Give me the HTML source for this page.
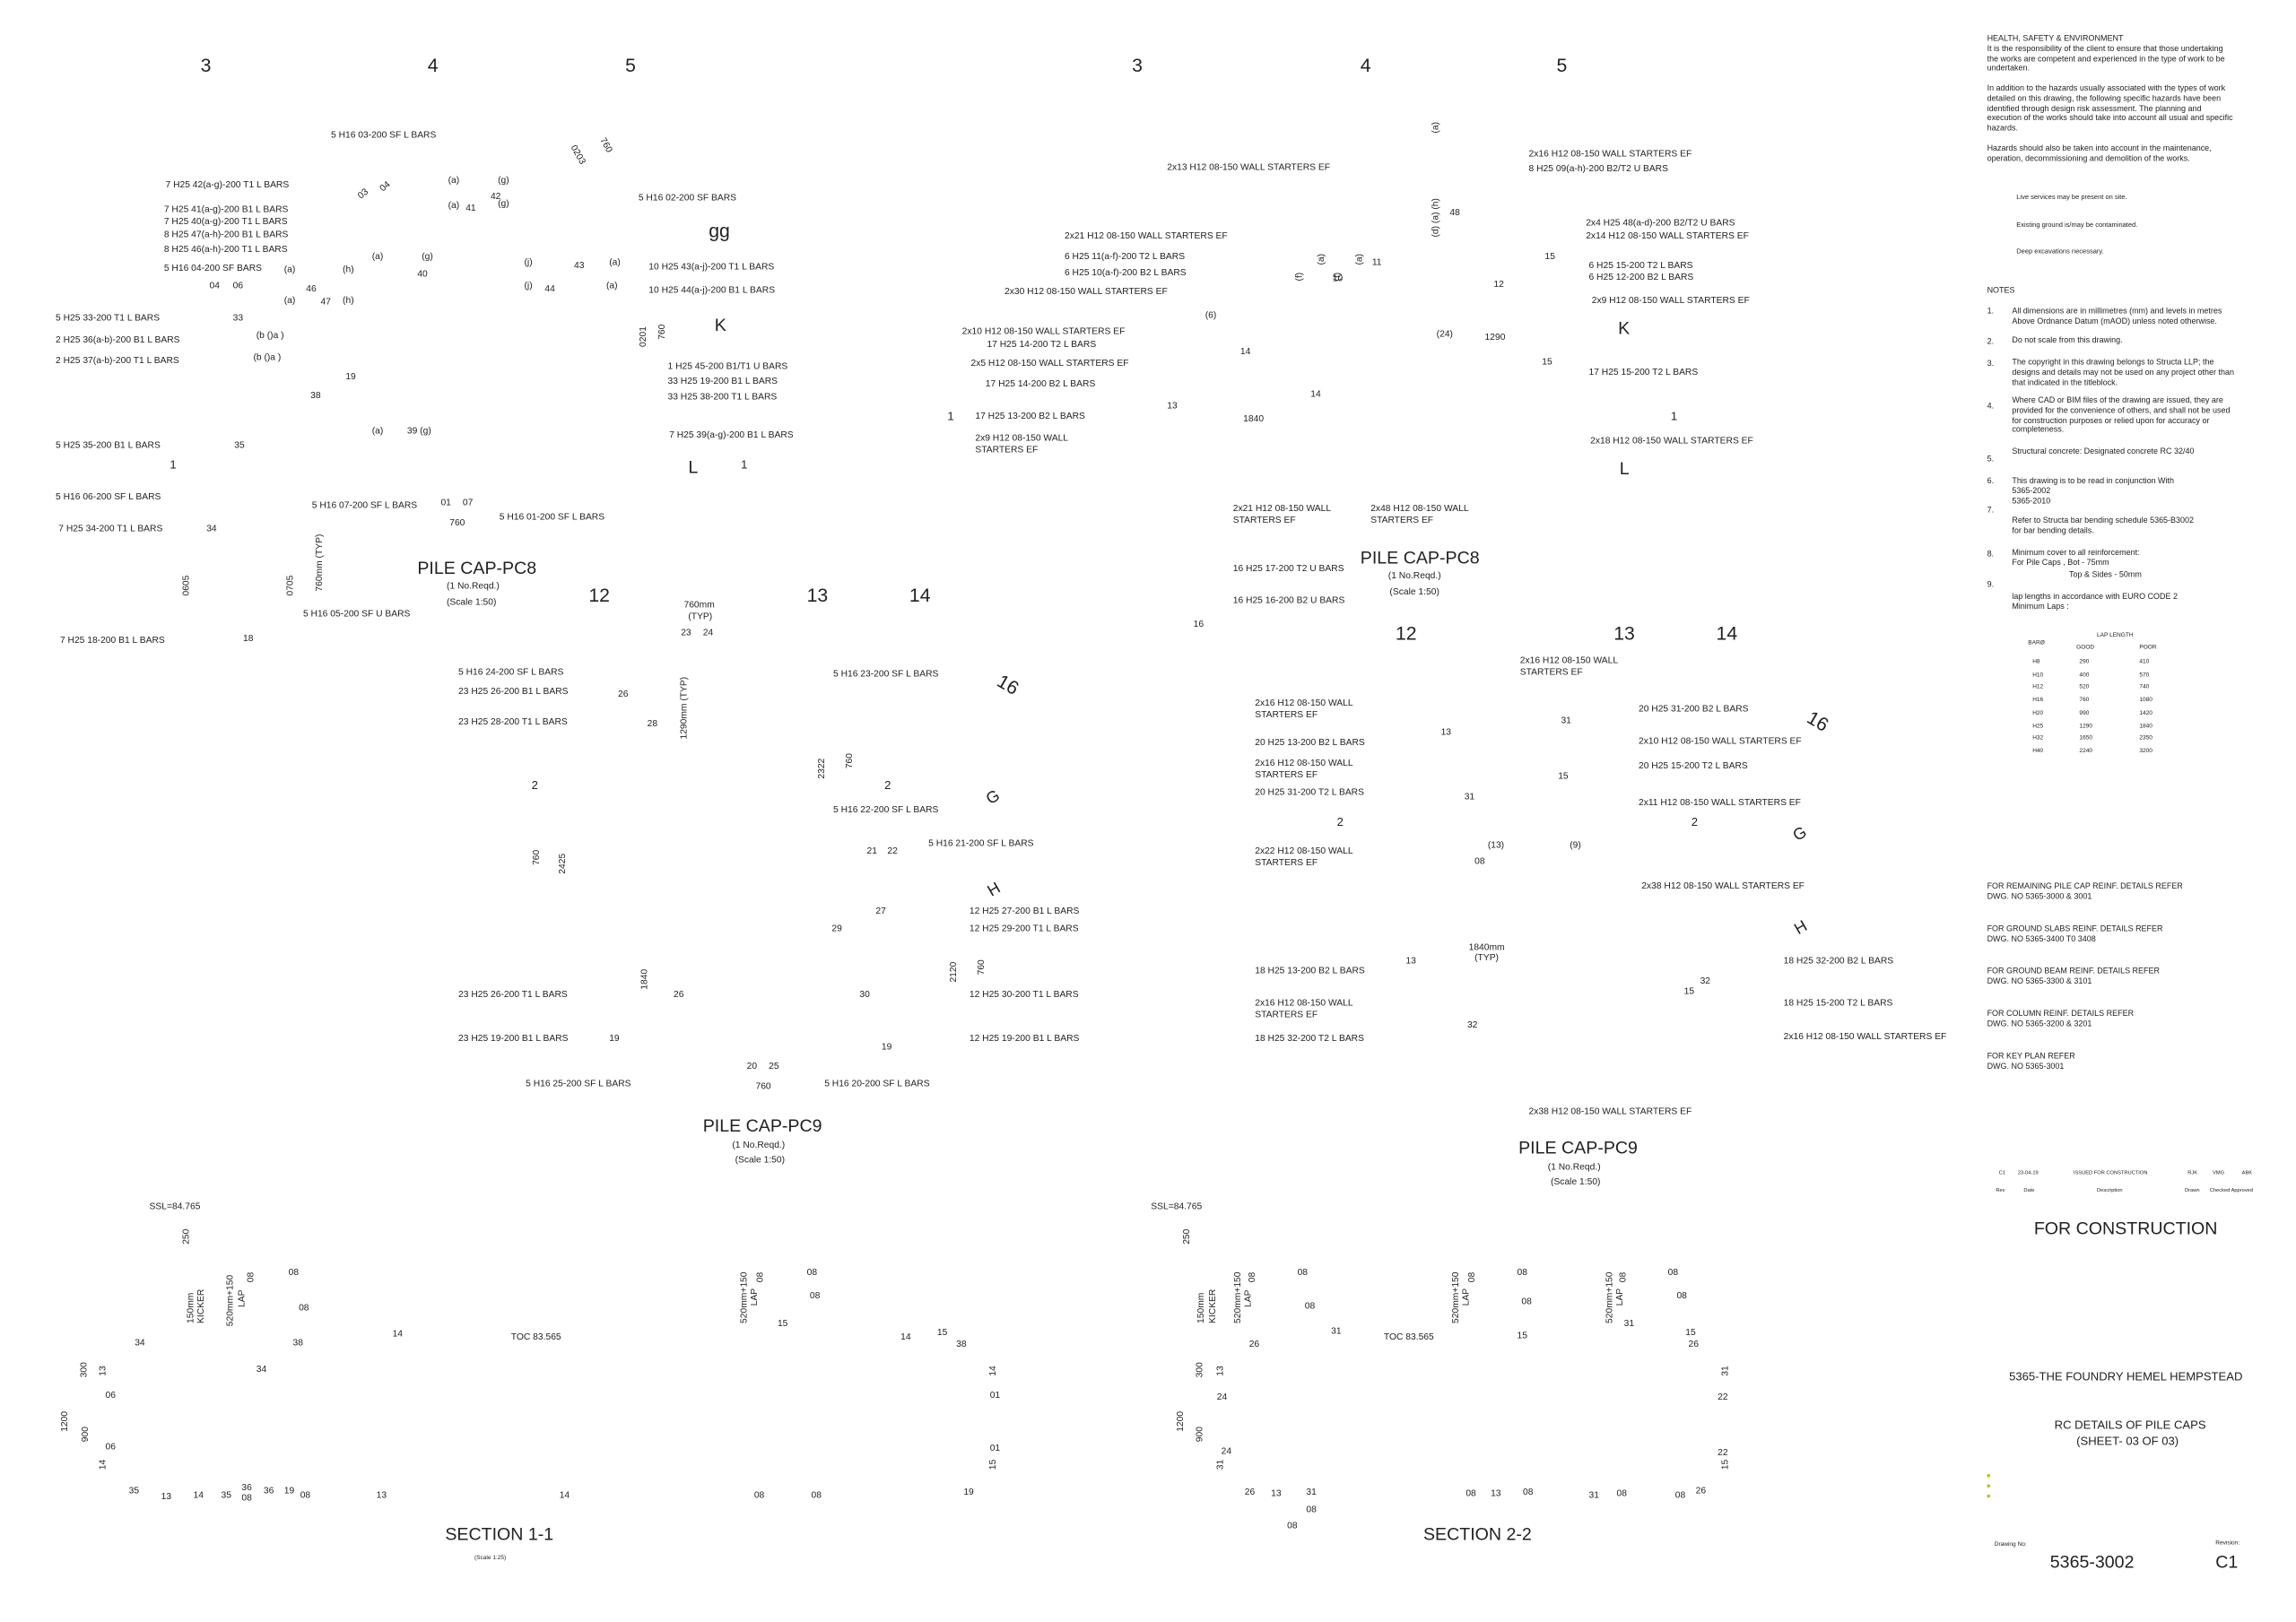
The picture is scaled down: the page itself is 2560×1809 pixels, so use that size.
<!DOCTYPE html>
<html><head><meta charset="utf-8"><style>
html,body{margin:0;padding:0;background:#fff;}
body{width:2560px;height:1808px;overflow:hidden;position:relative;}
#w{position:absolute;left:0;top:0;width:1568px;height:1108px;transform:scale(1.6327);transform-origin:0 0;font-family:"Liberation Sans Narrow","Liberation Sans",sans-serif;color:#222;}
#w div{position:absolute;white-space:nowrap;}
.s{font-size:6.3px;line-height:8px;}
.b{font-size:13px;line-height:14px;}
.m{font-size:12px;line-height:14px;}
.r{transform:rotate(-90deg);transform-origin:0 0;}
.n{font-size:5.5px;line-height:6.8px;}
.t{font-size:4px;line-height:5px;}
</style></head><body><div id="w">
<!-- LEFT PLAN -->
<div class="b" style="left:137px;top:38px">3</div>
<div class="b" style="left:292px;top:38px">4</div>
<div class="b" style="left:427px;top:38px">5</div>
<div class="s" style="left:226px;top:89px">5 H16 03-200 SF L BARS</div>
<div class="s" style="left:394px;top:98px;transform:rotate(60deg);transform-origin:0 0">0203</div>
<div class="s" style="left:414px;top:93px;transform:rotate(60deg);transform-origin:0 0">760</div>
<div class="s" style="left:113px;top:123px">7 H25 42(a-g)-200 T1 L BARS</div>
<div class="s" style="left:245px;top:129px;transform:rotate(-40deg)">03</div>
<div class="s" style="left:260px;top:124px;transform:rotate(-40deg)">04</div>
<div class="s" style="left:306px;top:120px">(a)</div><div class="s" style="left:340px;top:120px">(g)</div>
<div class="s" style="left:335px;top:131px">42</div>
<div class="s" style="left:306px;top:137px">(a)</div><div class="s" style="left:318px;top:139px">41</div><div class="s" style="left:340px;top:136px">(g)</div>
<div class="s" style="left:436px;top:132px">5 H16 02-200 SF BARS</div>
<div class="s" style="left:112px;top:140px">7 H25 41(a-g)-200 B1 L BARS</div>
<div class="s" style="left:112px;top:148px">7 H25 40(a-g)-200 T1 L BARS</div>
<div class="b" style="left:484px;top:151px">gg</div>
<div class="s" style="left:112px;top:157px">8 H25 47(a-h)-200 B1 L BARS</div>
<div class="s" style="left:112px;top:167px">8 H25 46(a-h)-200 T1 L BARS</div>
<div class="s" style="left:254px;top:172px">(a)</div><div class="s" style="left:288px;top:172px">(g)</div>
<div class="s" style="left:358px;top:176px">(j)</div><div class="s" style="left:392px;top:178px">43</div><div class="s" style="left:416px;top:176px">(a)</div>
<div class="s" style="left:443px;top:179px">10 H25 43(a-j)-200 T1 L BARS</div>
<div class="s" style="left:112px;top:180px">5 H16 04-200 SF BARS</div>
<div class="s" style="left:194px;top:181px">(a)</div><div class="s" style="left:234px;top:181px">(h)</div><div class="s" style="left:285px;top:184px">40</div>
<div class="s" style="left:143px;top:192px">04</div><div class="s" style="left:159px;top:192px">06</div><div class="s" style="left:209px;top:194px">46</div>
<div class="s" style="left:358px;top:192px">(j)</div><div class="s" style="left:372px;top:194px">44</div><div class="s" style="left:414px;top:192px">(a)</div>
<div class="s" style="left:443px;top:195px">10 H25 44(a-j)-200 B1 L BARS</div>
<div class="s" style="left:194px;top:202px">(a)</div><div class="s" style="left:219px;top:203px">47</div><div class="s" style="left:234px;top:202px">(h)</div>
<div class="s" style="left:38px;top:214px">5 H25 33-200 T1 L BARS</div><div class="s" style="left:159px;top:214px">33</div>
<div class="b" style="left:488px;top:215px;font-size:12px">K</div>
<div class="s r" style="left:436px;top:237px">0201</div>
<div class="s r" style="left:449px;top:232px">760</div>
<div class="s" style="left:38px;top:229px">2 H25 36(a-b)-200 B1 L BARS</div><div class="s" style="left:175px;top:226px">(b ()a )</div>
<div class="s" style="left:38px;top:243px">2 H25 37(a-b)-200 T1 L BARS</div><div class="s" style="left:173px;top:241px">(b ()a )</div>
<div class="s" style="left:456px;top:247px">1 H25 45-200 B1/T1 U BARS</div>
<div class="s" style="left:236px;top:254px">19</div>
<div class="s" style="left:456px;top:257px">33 H25 19-200 B1 L BARS</div>
<div class="s" style="left:456px;top:268px">33 H25 38-200 T1 L BARS</div>
<div class="s" style="left:212px;top:267px">38</div>
<div class="s" style="left:254px;top:291px">(a)</div><div class="s" style="left:278px;top:291px">39 (g)</div>
<div class="s" style="left:457px;top:294px">7 H25 39(a-g)-200 B1 L BARS</div>
<div class="s" style="left:38px;top:301px">5 H25 35-200 B1 L BARS</div><div class="s" style="left:160px;top:301px">35</div>
<div class="s" style="left:116px;top:314px;font-size:8px">1</div>
<div class="b" style="left:470px;top:312px;font-size:12px">L</div>
<div class="s" style="left:506px;top:314px;font-size:8px">1</div>
<div class="s" style="left:38px;top:336px">5 H16 06-200 SF L BARS</div>
<div class="s" style="left:213px;top:342px">5 H16 07-200 SF L BARS</div>
<div class="s" style="left:301px;top:340px">01</div><div class="s" style="left:316px;top:340px">07</div>
<div class="s" style="left:341px;top:350px">5 H16 01-200 SF L BARS</div>
<div class="s" style="left:307px;top:354px">760</div>
<div class="s" style="left:40px;top:358px">7 H25 34-200 T1 L BARS</div><div class="s" style="left:141px;top:358px">34</div>
<div class="m" style="left:285px;top:381px">PILE CAP-PC8</div>
<div class="s r" style="left:124px;top:407px">0605</div>
<div class="s r" style="left:195px;top:407px">0705</div>
<div class="s r" style="left:215px;top:404px">760mm (TYP)</div>
<div class="s" style="left:305px;top:397px">(1 No.Reqd.)</div>
<div class="s" style="left:305px;top:408px">(Scale 1:50)</div>
<div class="b" style="left:402px;top:400px">12</div>
<div class="b" style="left:551px;top:400px">13</div>
<div class="b" style="left:621px;top:400px">14</div>
<div class="s" style="left:467px;top:410px">760mm</div><div class="s" style="left:470px;top:418px">(TYP)</div>
<div class="s" style="left:207px;top:416px">5 H16 05-200 SF U BARS</div>
<div class="s" style="left:465px;top:429px">23</div><div class="s" style="left:480px;top:429px">24</div>
<div class="s" style="left:41px;top:434px">7 H25 18-200 B1 L BARS</div><div class="s" style="left:166px;top:433px">18</div>
<div class="s" style="left:313px;top:456px">5 H16 24-200 SF L BARS</div>
<div class="s" style="left:569px;top:457px">5 H16 23-200 SF L BARS</div>
<div class="b" style="left:681px;top:461px;transform:rotate(30deg)">16</div>
<div class="s" style="left:313px;top:469px">23 H25 26-200 B1 L BARS</div><div class="s" style="left:422px;top:471px">26</div>
<div class="s" style="left:313px;top:490px">23 H25 28-200 T1 L BARS</div><div class="s" style="left:442px;top:491px">28</div>
<div class="s r" style="left:464px;top:505px">1290mm (TYP)</div>
<div class="s r" style="left:558px;top:532px">2322</div>
<div class="s r" style="left:577px;top:525px">760</div>
<div class="s" style="left:363px;top:533px;font-size:8px">2</div>
<div class="s" style="left:604px;top:533px;font-size:8px">2</div>
<div class="b" style="left:674px;top:538px;font-size:11px;transform:rotate(-30deg)">G</div>
<div class="s" style="left:569px;top:550px">5 H16 22-200 SF L BARS</div>
<div class="s" style="left:592px;top:578px">21</div><div class="s" style="left:606px;top:578px">22</div>
<div class="s" style="left:634px;top:573px">5 H16 21-200 SF L BARS</div>
<div class="s r" style="left:363px;top:591px">760</div>
<div class="s r" style="left:381px;top:597px">2425</div>
<div class="b" style="left:675px;top:601px;font-size:11px;transform:rotate(-30deg)">H</div>
<div class="s" style="left:598px;top:619px">27</div><div class="s" style="left:662px;top:619px">12 H25 27-200 B1 L BARS</div>
<div class="s" style="left:568px;top:631px">29</div><div class="s" style="left:662px;top:631px">12 H25 29-200 T1 L BARS</div>
<div class="s r" style="left:648px;top:671px">2120</div>
<div class="s r" style="left:667px;top:666px">760</div>
<div class="s r" style="left:437px;top:676px">1840</div>
<div class="s" style="left:313px;top:676px">23 H25 26-200 T1 L BARS</div><div class="s" style="left:460px;top:676px">26</div><div class="s" style="left:587px;top:676px">30</div><div class="s" style="left:662px;top:676px">12 H25 30-200 T1 L BARS</div>
<div class="s" style="left:313px;top:706px">23 H25 19-200 B1 L BARS</div><div class="s" style="left:416px;top:706px">19</div><div class="s" style="left:602px;top:712px">19</div><div class="s" style="left:662px;top:706px">12 H25 19-200 B1 L BARS</div>
<div class="s" style="left:510px;top:725px">20</div><div class="s" style="left:525px;top:725px">25</div>
<div class="s" style="left:359px;top:737px">5 H16 25-200 SF L BARS</div><div class="s" style="left:516px;top:739px">760</div><div class="s" style="left:563px;top:737px">5 H16 20-200 SF L BARS</div>
<div class="m" style="left:480px;top:762px">PILE CAP-PC9</div>
<div class="s" style="left:500px;top:779px">(1 No.Reqd.)</div>
<div class="s" style="left:502px;top:789px">(Scale 1:50)</div>

<!-- RIGHT PLAN -->
<div class="b" style="left:773px;top:38px">3</div>
<div class="b" style="left:929px;top:38px">4</div>
<div class="b" style="left:1063px;top:38px">5</div>
<div class="s r" style="left:977px;top:91px">(a)</div>
<div class="s" style="left:1044px;top:102px">2x16 H12 08-150 WALL STARTERS EF</div>
<div class="s" style="left:797px;top:111px">2x13 H12 08-150 WALL STARTERS EF</div>
<div class="s" style="left:1044px;top:112px">8 H25 09(a-h)-200 B2/T2 U BARS</div>
<div class="s r" style="left:977px;top:162px">(d) (a) (h)</div><div class="s" style="left:990px;top:142px">48</div>
<div class="s" style="left:1083px;top:149px">2x4 H25 48(a-d)-200 B2/T2 U BARS</div>
<div class="s" style="left:727px;top:158px">2x21 H12 08-150 WALL STARTERS EF</div>
<div class="s" style="left:1083px;top:158px">2x14 H12 08-150 WALL STARTERS EF</div>
<div class="s" style="left:727px;top:172px">6 H25 11(a-f)-200 T2 L BARS</div>
<div class="s r" style="left:899px;top:181px">(a)</div><div class="s r" style="left:925px;top:181px">(a)</div>
<div class="s" style="left:937px;top:176px">11</div><div class="s" style="left:1055px;top:172px">15</div>
<div class="s" style="left:1085px;top:178px">6 H25 15-200 T2 L BARS</div>
<div class="s" style="left:727px;top:183px">6 H25 10(a-f)-200 B2 L BARS</div>
<div class="s r" style="left:884px;top:192px">(f)</div><div class="s r" style="left:910px;top:192px">(f)</div><div class="s" style="left:910px;top:187px">10</div>
<div class="s" style="left:1085px;top:186px">6 H25 12-200 B2 L BARS</div><div class="s" style="left:1020px;top:191px">12</div>
<div class="s" style="left:686px;top:196px">2x30 H12 08-150 WALL STARTERS EF</div>
<div class="s" style="left:1087px;top:202px">2x9 H12 08-150 WALL STARTERS EF</div>
<div class="s" style="left:823px;top:212px">(6)</div>
<div class="s" style="left:657px;top:223px">2x10 H12 08-150 WALL STARTERS EF</div>
<div class="b" style="left:1105px;top:217px;font-size:12px">K</div>
<div class="s" style="left:981px;top:225px">(24)</div><div class="s" style="left:1014px;top:227px">1290</div>
<div class="s" style="left:674px;top:232px">17 H25 14-200 T2 L BARS</div>
<div class="s" style="left:847px;top:237px">14</div>
<div class="s" style="left:663px;top:245px">2x5 H12 08-150 WALL STARTERS EF</div><div class="s" style="left:1053px;top:244px">15</div>
<div class="s" style="left:1085px;top:251px">17 H25 15-200 T2 L BARS</div>
<div class="s" style="left:673px;top:259px">17 H25 14-200 B2 L BARS</div>
<div class="s" style="left:895px;top:266px">14</div><div class="s" style="left:797px;top:274px">13</div>
<div class="s" style="left:647px;top:281px;font-size:8px">1</div>
<div class="s" style="left:666px;top:281px">17 H25 13-200 B2 L BARS</div>
<div class="s" style="left:849px;top:283px">1840</div>
<div class="s" style="left:1141px;top:281px;font-size:8px">1</div>
<div class="s" style="left:666px;top:296px">2x9 H12 08-150 WALL</div><div class="s" style="left:666px;top:304px">STARTERS EF</div>
<div class="s" style="left:1086px;top:298px">2x18 H12 08-150 WALL STARTERS EF</div>
<div class="b" style="left:1106px;top:313px;font-size:12px">L</div>
<div class="s" style="left:842px;top:344px">2x21 H12 08-150 WALL</div><div class="s" style="left:842px;top:352px">STARTERS EF</div>
<div class="s" style="left:936px;top:344px">2x48 H12 08-150 WALL</div><div class="s" style="left:936px;top:352px">STARTERS EF</div>
<div class="m" style="left:929px;top:374px">PILE CAP-PC8</div>
<div class="s" style="left:948px;top:390px">(1 No.Reqd.)</div><div class="s" style="left:949px;top:401px">(Scale 1:50)</div>
<div class="s" style="left:842px;top:385px">16 H25 17-200 T2 U BARS</div>
<div class="s" style="left:842px;top:407px">16 H25 16-200 B2 U BARS</div>
<div class="s" style="left:815px;top:423px">16</div>
<div class="b" style="left:953px;top:426px">12</div>
<div class="b" style="left:1102px;top:426px">13</div>
<div class="b" style="left:1172px;top:426px">14</div>
<div class="s" style="left:1038px;top:448px">2x16 H12 08-150 WALL</div><div class="s" style="left:1038px;top:456px">STARTERS EF</div>
<div class="b" style="left:1234px;top:486px;transform:rotate(30deg)">16</div>
<div class="s" style="left:857px;top:477px">2x16 H12 08-150 WALL</div><div class="s" style="left:857px;top:485px">STARTERS EF</div>
<div class="s" style="left:1119px;top:481px">20 H25 31-200 B2 L BARS</div>
<div class="s" style="left:1066px;top:489px">31</div><div class="s" style="left:984px;top:497px">13</div>
<div class="s" style="left:857px;top:504px">20 H25 13-200 B2 L BARS</div>
<div class="s" style="left:1119px;top:503px">2x10 H12 08-150 WALL STARTERS EF</div>
<div class="s" style="left:857px;top:518px">2x16 H12 08-150 WALL</div><div class="s" style="left:857px;top:526px">STARTERS EF</div>
<div class="s" style="left:1119px;top:520px">20 H25 15-200 T2 L BARS</div><div class="s" style="left:1064px;top:527px">15</div>
<div class="s" style="left:857px;top:538px">20 H25 31-200 T2 L BARS</div><div class="s" style="left:1000px;top:541px">31</div>
<div class="s" style="left:1119px;top:545px">2x11 H12 08-150 WALL STARTERS EF</div>
<div class="s" style="left:913px;top:558px;font-size:8px">2</div><div class="s" style="left:1155px;top:558px;font-size:8px">2</div>
<div class="b" style="left:1225px;top:563px;font-size:11px;transform:rotate(-30deg)">G</div>
<div class="s" style="left:857px;top:578px">2x22 H12 08-150 WALL</div><div class="s" style="left:857px;top:586px">STARTERS EF</div>
<div class="s" style="left:1016px;top:574px">(13)</div><div class="s" style="left:1072px;top:574px">(9)</div><div class="s" style="left:1007px;top:585px">08</div>
<div class="s" style="left:1121px;top:602px">2x38 H12 08-150 WALL STARTERS EF</div>
<div class="b" style="left:1226px;top:627px;font-size:11px;transform:rotate(-30deg)">H</div>
<div class="s" style="left:1003px;top:644px">1840mm</div><div class="s" style="left:1007px;top:651px">(TYP)</div>
<div class="s" style="left:1218px;top:653px">18 H25 32-200 B2 L BARS</div><div class="s" style="left:960px;top:653px">13</div>
<div class="s" style="left:857px;top:660px">18 H25 13-200 B2 L BARS</div>
<div class="s" style="left:1161px;top:667px">32</div><div class="s" style="left:1150px;top:674px">15</div>
<div class="s" style="left:857px;top:682px">2x16 H12 08-150 WALL</div><div class="s" style="left:857px;top:690px">STARTERS EF</div>
<div class="s" style="left:1218px;top:682px">18 H25 15-200 T2 L BARS</div>
<div class="s" style="left:1002px;top:697px">32</div>
<div class="s" style="left:857px;top:706px">18 H25 32-200 T2 L BARS</div>
<div class="s" style="left:1218px;top:705px">2x16 H12 08-150 WALL STARTERS EF</div>
<div class="s" style="left:1044px;top:756px">2x38 H12 08-150 WALL STARTERS EF</div>
<div class="m" style="left:1037px;top:777px">PILE CAP-PC9</div>
<div class="s" style="left:1057px;top:794px">(1 No.Reqd.)</div><div class="s" style="left:1059px;top:804px">(Scale 1:50)</div>

<!-- SECTION 1-1 -->
<div class="s" style="left:102px;top:821px">SSL=84.765</div>
<div class="s r" style="left:124px;top:850px">250</div>
<div class="s r" style="left:168px;top:876px">08</div><div class="s" style="left:197px;top:866px">08</div>
<div class="s r" style="left:127px;top:904px">150mm</div><div class="s r" style="left:134px;top:904px">KICKER</div>
<div class="s r" style="left:154px;top:906px">520mm+150</div><div class="s r" style="left:162px;top:893px">LAP</div>
<div class="s" style="left:204px;top:890px">08</div>
<div class="s" style="left:92px;top:914px">34</div><div class="s" style="left:200px;top:914px">38</div><div class="s" style="left:268px;top:908px">14</div>
<div class="s" style="left:349px;top:910px">TOC 83.565</div>
<div class="s r" style="left:54px;top:941px">300</div><div class="s r" style="left:67px;top:940px">13</div>
<div class="s" style="left:175px;top:932px">34</div>
<div class="s" style="left:72px;top:950px">06</div>
<div class="s r" style="left:41px;top:978px">1200</div><div class="s r" style="left:55px;top:985px">900</div>
<div class="s" style="left:72px;top:985px">06</div>
<div class="s r" style="left:67px;top:1004px">14</div>
<div class="s" style="left:88px;top:1015px">35</div><div class="s" style="left:110px;top:1019px">13</div><div class="s" style="left:132px;top:1018px">14</div><div class="s" style="left:151px;top:1018px">35</div>
<div class="s" style="left:165px;top:1013px">36</div><div class="s" style="left:165px;top:1020px">08</div>
<div class="s" style="left:180px;top:1015px">36</div><div class="s" style="left:194px;top:1015px">19</div><div class="s" style="left:205px;top:1018px">08</div>
<div class="s" style="left:257px;top:1018px">13</div><div class="s" style="left:382px;top:1018px">14</div>
<div class="m" style="left:304px;top:1041px">SECTION 1-1</div>
<div class="t" style="left:324px;top:1061px">(Scale 1:25)</div>
<div class="s r" style="left:505px;top:904px">520mm+150</div><div class="s r" style="left:512px;top:892px">LAP</div>
<div class="s r" style="left:516px;top:876px">08</div><div class="s" style="left:551px;top:866px">08</div><div class="s" style="left:553px;top:882px">08</div>
<div class="s" style="left:531px;top:901px">15</div>
<div class="s" style="left:615px;top:910px">14</div><div class="s" style="left:640px;top:907px">15</div><div class="s" style="left:653px;top:915px">38</div>
<div class="s r" style="left:675px;top:940px">14</div>
<div class="s" style="left:676px;top:950px">01</div><div class="s" style="left:676px;top:986px">01</div>
<div class="s r" style="left:675px;top:1004px">15</div>
<div class="s" style="left:515px;top:1018px">08</div><div class="s" style="left:554px;top:1018px">08</div><div class="s" style="left:658px;top:1016px">19</div>

<!-- SECTION 2-2 -->
<div class="s" style="left:786px;top:821px">SSL=84.765</div>
<div class="s r" style="left:807px;top:850px">250</div>
<div class="s r" style="left:817px;top:904px">150mm</div><div class="s r" style="left:825px;top:904px">KICKER</div>
<div class="s r" style="left:842px;top:904px">520mm+150</div><div class="s r" style="left:849px;top:893px">LAP</div>
<div class="s r" style="left:852px;top:876px">08</div><div class="s" style="left:886px;top:866px">08</div><div class="s" style="left:891px;top:889px">08</div>
<div class="s" style="left:909px;top:906px">31</div><div class="s" style="left:853px;top:915px">26</div>
<div class="s" style="left:945px;top:910px">TOC 83.565</div>
<div class="s r" style="left:816px;top:941px">300</div><div class="s r" style="left:830px;top:940px">13</div>
<div class="s" style="left:831px;top:951px">24</div>
<div class="s r" style="left:803px;top:978px">1200</div><div class="s r" style="left:816px;top:985px">900</div>
<div class="s" style="left:834px;top:988px">24</div>
<div class="s r" style="left:830px;top:1004px">31</div>
<div class="s" style="left:850px;top:1016px">26</div><div class="s" style="left:868px;top:1017px">13</div><div class="s" style="left:892px;top:1016px">31</div>
<div class="s" style="left:892px;top:1028px">08</div><div class="s" style="left:879px;top:1039px">08</div>
<div class="s" style="left:1001px;top:1017px">08</div><div class="s" style="left:1018px;top:1017px">13</div><div class="s" style="left:1040px;top:1016px">08</div>
<div class="s" style="left:1085px;top:1018px">31</div><div class="s" style="left:1104px;top:1017px">08</div><div class="s" style="left:1144px;top:1018px">08</div><div class="s" style="left:1158px;top:1015px">26</div>
<div class="m" style="left:972px;top:1041px">SECTION 2-2</div>
<div class="s r" style="left:991px;top:904px">520mm+150</div><div class="s r" style="left:998px;top:892px">LAP</div>
<div class="s r" style="left:1002px;top:876px">08</div><div class="s" style="left:1036px;top:866px">08</div><div class="s" style="left:1039px;top:886px">08</div><div class="s" style="left:1036px;top:909px">15</div>
<div class="s r" style="left:1096px;top:904px">520mm+150</div><div class="s r" style="left:1103px;top:892px">LAP</div>
<div class="s r" style="left:1105px;top:876px">08</div><div class="s" style="left:1139px;top:866px">08</div><div class="s" style="left:1145px;top:882px">08</div><div class="s" style="left:1109px;top:901px">31</div>
<div class="s" style="left:1151px;top:907px">15</div><div class="s" style="left:1153px;top:915px">26</div>
<div class="s r" style="left:1175px;top:940px">31</div>
<div class="s" style="left:1173px;top:951px">22</div><div class="s" style="left:1173px;top:989px">22</div>
<div class="s r" style="left:1175px;top:1004px">15</div>

<!-- NOTES COLUMN -->
<div class="n" style="left:1357px;top:24px">HEALTH, SAFETY &amp; ENVIRONMENT<br>It is the responsibility of the client to ensure that those undertaking<br>the works are competent and experienced in the type of work to be<br>undertaken.</div>
<div class="n" style="left:1357px;top:58px">In addition to the hazards usually associated with the types of work<br>detailed on this drawing, the following specific hazards have been<br>identified through design risk assessment. The planning and<br>execution of the works should take into account all usual and specific<br>hazards.</div>
<div class="n" style="left:1357px;top:99px">Hazards should also be taken into account in the maintenance,<br>operation, decommissioning and demolition of the works.</div>
<div class="n" style="left:1377px;top:132px;font-size:4.6px">Live services may be present on site.</div>
<div class="n" style="left:1377px;top:151px;font-size:4.6px">Existing ground is/may be contaminated.</div>
<div class="n" style="left:1377px;top:169px;font-size:4.6px">Deep excavations necessary.</div>
<div class="n" style="left:1357px;top:196px">NOTES</div>
<div class="n" style="left:1357px;top:210px">1.</div><div class="n" style="left:1374px;top:210px">All dimensions are in millimetres (mm) and levels in metres<br>Above Ordnance Datum (mAOD) unless noted otherwise.</div>
<div class="n" style="left:1357px;top:231px">2.</div><div class="n" style="left:1374px;top:230px">Do not scale from this drawing.</div>
<div class="n" style="left:1357px;top:246px">3.</div><div class="n" style="left:1374px;top:245px">The copyright in this drawing belongs to Structa LLP; the<br>designs and details may not be used on any project other than<br>that indicated in the titleblock.</div>
<div class="n" style="left:1357px;top:275px">4.</div><div class="n" style="left:1374px;top:271px">Where CAD or BIM files of the drawing are issued, they are<br>provided for the convenience of others, and shall not be used<br>for construction purposes or relied upon for accuracy or<br>completeness.</div>
<div class="n" style="left:1357px;top:311px">5.</div><div class="n" style="left:1374px;top:306px">Structural concrete: Designated concrete RC 32/40</div>
<div class="n" style="left:1357px;top:326px">6.</div><div class="n" style="left:1374px;top:326px">This drawing is to be read in conjunction With<br>5365-2002<br>5365-2010</div>
<div class="n" style="left:1357px;top:346px">7.</div><div class="n" style="left:1374px;top:353px">Refer to Structa bar bending schedule 5365-B3002<br>for bar bending details.</div>
<div class="n" style="left:1357px;top:376px">8.</div><div class="n" style="left:1374px;top:375px">Minimum cover to all reinforcement:<br>For Pile Caps , Bot - 75mm</div>
<div class="n" style="left:1413px;top:390px">Top &amp; Sides - 50mm</div>
<div class="n" style="left:1357px;top:397px">9.</div><div class="n" style="left:1374px;top:405px">lap lengths in accordance with EURO CODE 2<br>Minimum Laps :</div>
<div class="t" style="left:1432px;top:431px">LAP LENGTH</div>
<div class="t" style="left:1385px;top:436px">BARØ</div><div class="t" style="left:1418px;top:439px">GOOD</div><div class="t" style="left:1461px;top:439px">POOR</div>
<div class="t" style="left:1388px;top:448px;line-height:8.7px">H8<br>H10<br>H12<br>H16<br>H20<br>H25<br>H32<br>H40</div>
<div class="t" style="left:1420px;top:448px;line-height:8.7px">290<br>400<br>520<br>760<br>990<br>1290<br>1650<br>2240</div>
<div class="t" style="left:1461px;top:448px;line-height:8.7px">410<br>570<br>740<br>1080<br>1420<br>1840<br>2350<br>3200</div>
<div class="n" style="left:1357px;top:603px">FOR REMAINING PILE CAP REINF. DETAILS REFER<br>DWG. NO 5365-3000 &amp; 3001</div>
<div class="n" style="left:1357px;top:632px">FOR GROUND SLABS REINF. DETAILS REFER<br>DWG. NO 5365-3400 T0 3408</div>
<div class="n" style="left:1357px;top:661px">FOR GROUND BEAM REINF. DETAILS REFER<br>DWG. NO 5365-3300 &amp; 3101</div>
<div class="n" style="left:1357px;top:690px">FOR COLUMN REINF. DETAILS REFER<br>DWG. NO 5365-3200 &amp; 3201</div>
<div class="n" style="left:1357px;top:719px">FOR KEY PLAN REFER<br>DWG. NO 5365-3001</div>
<div class="t" style="left:1365px;top:799px;font-size:3.5px">C1</div><div class="t" style="left:1378px;top:799px;font-size:3.5px">23-04-19</div><div class="t" style="left:1416px;top:799px;font-size:3.5px">ISSUED FOR CONSTRUCTION</div>
<div class="t" style="left:1494px;top:799px;font-size:3.5px">RJK</div><div class="t" style="left:1511px;top:799px;font-size:3.5px">VMG</div><div class="t" style="left:1531px;top:799px;font-size:3.5px">ABK</div>
<div class="t" style="left:1363px;top:811px;font-size:3.5px">Rev</div><div class="t" style="left:1382px;top:811px;font-size:3.5px">Date</div><div class="t" style="left:1432px;top:811px;font-size:3.5px">Description</div>
<div class="t" style="left:1492px;top:811px;font-size:3.5px">Drawn</div><div class="t" style="left:1509px;top:811px;font-size:3.5px">Checked Approved</div>
<div class="m" style="left:1389px;top:832px;font-size:12px">FOR CONSTRUCTION</div>
<div style="left:1372px;top:936px;font-size:8px;line-height:10px">5365-THE FOUNDRY HEMEL HEMPSTEAD</div>
<div style="left:1403px;top:969px;font-size:8px;line-height:10px">RC DETAILS OF PILE CAPS</div>
<div style="left:1418px;top:980px;font-size:8px;line-height:10px">(SHEET- 03 OF 03)</div>
<div style="left:1357px;top:1007px;width:2px;height:2px;background:#b8c400"></div>
<div style="left:1357px;top:1014px;width:2px;height:2px;background:#b8c400"></div>
<div style="left:1357px;top:1021px;width:2px;height:2px;background:#b8c400"></div>
<div class="t" style="left:1362px;top:1052px">Drawing No:</div>
<div class="t" style="left:1513px;top:1051px">Revision:</div>
<div class="m" style="left:1400px;top:1060px">5365-3002</div>
<div class="m" style="left:1513px;top:1060px">C1</div>
</div></body></html>
